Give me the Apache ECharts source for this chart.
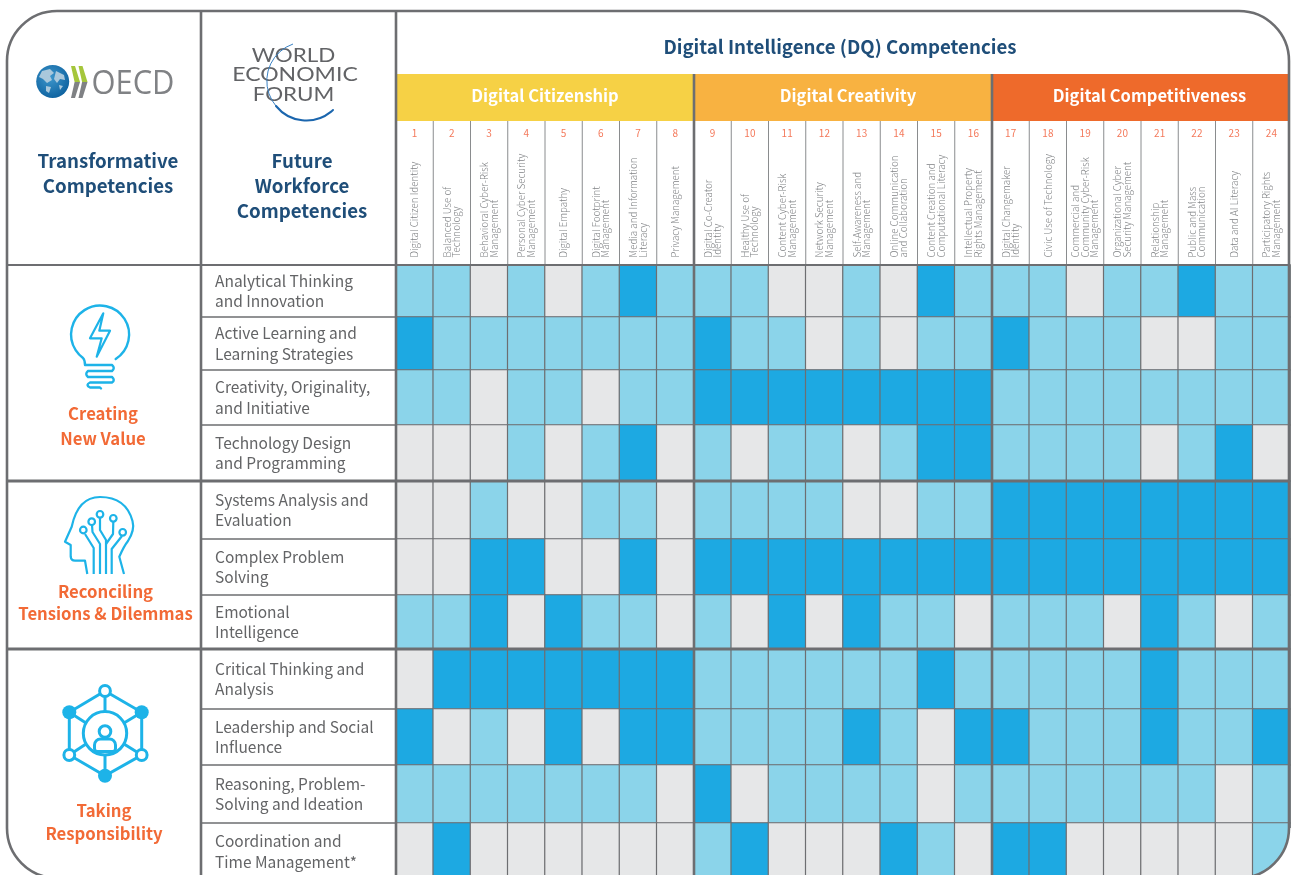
<!DOCTYPE html>
<html><head><meta charset="utf-8">
<style>html,body{margin:0;padding:0;background:#fff}#c{width:1291px;height:875px}</style>
<script src="https://cdn.jsdelivr.net/npm/echarts@6/dist/echarts.min.js"></script>
</head><body><div id="c"></div>
<script>
// ---------- data ----------
const columnNumbers = ['1','2','3','4','5','6','7','8','9','10','11','12','13','14','15','16','17','18','19','20','21','22','23','24'];
const columnNames = [
 'Digital Citizen Identity','Balanced Use of\nTechnology','Behavioral Cyber-Risk\nManagement','Personal Cyber Security\nManagement',
 'Digital Empathy','Digital Footprint\nManagement','Media and Information\nLiteracy','Privacy Management',
 'Digital Co-Creator\nIdentity','Healthy Use of\nTechnology','Content Cyber-Risk\nManagement','Network Security\nManagement',
 'Self-Awareness and\nManagement','Online Communication\nand Collaboration','Content Creation and\nComputational Literacy','Intellectual Property\nRights Management',
 'Digital Changemaker\nIdentity','Civic Use of Technology','Commercial and\nCommunity Cyber-Risk\nManagement','Organizational Cyber\nSecurity Management',
 'Relationship\nManagement','Public and Mass\nCommunication','Data and AI Literacy','Participatory Rights\nManagement'];
const rowLabels = [
 'Analytical Thinking\nand Innovation','Active Learning and\nLearning Strategies','Creativity, Originality,\nand Initiative','Technology Design\nand Programming',
 'Systems Analysis and\nEvaluation','Complex Problem\nSolving','Emotional\nIntelligence',
 'Critical Thinking and\nAnalysis','Leadership and Social\nInfluence','Reasoning, Problem-\nSolving and Ideation','Coordination and\nTime Management*'];
// 0 = no link, 1 = indirect link, 2 = direct link
const analytical   = [1,1,0,1,0,1,2,1, 1,1,0,0,1,0,2,1, 1,1,0,1,1,2,1,1];
const activeLearn  = [2,1,1,1,1,1,1,1, 2,1,1,0,1,0,1,1, 2,1,1,1,0,0,1,1];
const creativity   = [1,1,0,1,1,0,1,1, 2,2,2,2,2,2,2,2, 1,1,1,1,1,1,1,1];
const techDesign   = [0,0,0,1,0,1,2,0, 1,0,1,1,0,1,2,2, 1,1,1,1,0,1,2,0];
const systems      = [0,0,1,0,0,1,1,0, 1,1,1,1,0,0,1,1, 2,2,2,2,2,2,2,2];
const complexProb  = [0,0,2,2,0,0,2,0, 2,2,2,2,2,2,2,2, 2,2,2,2,2,2,2,2];
const emotional    = [1,1,2,0,2,1,1,0, 1,0,2,0,2,1,1,0, 1,1,1,0,2,1,0,1];
const critical     = [0,2,2,2,2,2,2,2, 1,1,1,1,1,1,2,1, 1,1,1,1,2,1,1,1];
const leadership   = [2,0,1,0,2,0,2,2, 1,1,1,1,2,1,0,2, 2,1,1,1,2,1,1,2];
const reasoning    = [1,1,1,1,1,1,1,0, 2,0,1,1,1,1,0,1, 1,1,1,1,1,1,0,1];
const coordination = [0,2,0,0,0,0,0,0, 1,2,0,0,0,2,1,0, 2,2,0,0,0,0,0,1];
const matrix = [analytical,activeLearn,creativity,techDesign,systems,complexProb,emotional,critical,leadership,reasoning,coordination];
const bandTitles = ['Digital Citizenship','Digital Creativity','Digital Competitiveness'];

// ---------- style / layout ----------
const cellColors = ['#E6E7E8','#8BD4EA','#1DA9E2'];
const bandColors = ['#F6D145','#F8B241','#EE6A2B'];
const bandNudge = [0,5,9];
const FONT='"Noto Sans CJK SC","Noto Sans",sans-serif';
const NAVY='#1F4E79', ORANGE='#F26A36', LINE='#6D6E71', ICON='#1DB3E8', GREY='#636466';
const gridLeft=396, gridRight=1290, colW=(gridRight-gridLeft)/24;
const rowEdges=[265,317,370,425,481,539,595,649,709,765,823,880];

const chart=echarts.init(document.getElementById('c'),null,{renderer:'canvas'});
const grid=[],xAxis=[],yAxis=[],series=[];
matrix.forEach((vals,r)=>{
  grid.push({left:gridLeft,width:gridRight-gridLeft,top:rowEdges[r],height:rowEdges[r+1]-rowEdges[r],outerBoundsMode:'none'});
  xAxis.push({type:'category',gridIndex:r,data:columnNumbers,show:false});
  yAxis.push({type:'category',gridIndex:r,data:[rowLabels[r]],
    axisLine:{show:false},axisTick:{show:false},splitLine:{show:false},
    axisLabel:{interval:0,align:'left',margin:gridLeft-215,fontSize:15.5,lineHeight:20.5,color:GREY,fontFamily:FONT}});
  series.push({type:'heatmap',xAxisIndex:r,yAxisIndex:r,
    data:vals.map((v,c)=>({value:[c,0,v],itemStyle:{color:cellColors[v]}})),
    itemStyle:{borderColor:LINE,borderWidth:1.2},silent:true,progressive:0});
});
// column numbers sit on the first row's grid
xAxis.push({type:'category',gridIndex:0,position:'top',offset:132,data:columnNumbers,
  axisLine:{show:false},axisTick:{show:false},
  axisLabel:{interval:0,margin:0,fontSize:10,color:'#F4795B',fontFamily:FONT,verticalAlign:'middle'}});

// ---------- decoration ----------
const g=[];
let pathId=0;
// graphic elements have no generic svg-path type: register one shape per outline
const svg=(d,style,z=20)=>{
  const name='dqPath'+(pathId++);
  echarts.graphic.registerShape(name,echarts.graphic.extendPath(d,{}));
  g.push({type:name,z,silent:true,style:Object.assign({fill:'none'},style)});
};
const text=(t,x,y,o={})=>g.push({type:'text',x,y,z:20,scaleX:o.sx||1,silent:true,
  style:{text:t,x:0,y:0,align:'center',verticalAlign:'middle',fontFamily:o.f||FONT,fontSize:o.s||18,fontWeight:o.w||700,lineHeight:o.lh,fill:o.c||NAVY}});
const line=(x1,y1,x2,y2,w=1.5,c=LINE,z=12)=>g.push({type:'line',z,silent:true,shape:{x1,y1,x2,y2},style:{stroke:c,lineWidth:w}});
const circle=(cx,cy,r,o={})=>g.push({type:'circle',z:o.z||20,silent:true,shape:{cx,cy,r},
  style:{fill:o.fill||'#fff',stroke:o.stroke===undefined?ICON:o.stroke,lineWidth:o.w===undefined?2.4:o.w}});

// vertical competency names
columnNames.forEach((t,i)=>g.push({type:'text',x:gridLeft+(i+0.5)*colW,y:257.5,rotation:Math.PI/2,z:20,silent:true,
  style:{text:t,x:0,y:0,align:'left',verticalAlign:'middle',fontFamily:FONT,fontSize:9.75,fontWeight:300,lineHeight:9.5,fill:'#7F8184'}}));

// bands
bandTitles.forEach((t,i)=>{
  const x0=gridLeft+i*8*colW, x1=i==2?1289:x0+8*colW;
  g.push({type:'rect',z:5,silent:true,shape:{x:x0,y:74,width:x1-x0,height:47},style:{fill:bandColors[i]}});
  text(t,(x0+x1)/2+bandNudge[i],95.5,{s:16.5,c:'#fff'});
});
text('Digital Intelligence (DQ) Competencies',840,46.5,{s:18.7});
text('Transformative\nCompetencies',108,173.5,{s:18.7,lh:25});
text('Future\nWorkforce\nCompetencies',302,186,{s:18.7,lh:25});
text('Creating\nNew Value',103,426.5,{s:16.7,lh:25,c:ORANGE});
text('Reconciling\nTensions & Dilemmas',105.5,603,{s:16.7,lh:22,c:ORANGE});
text('Taking\nResponsibility',104,822.5,{s:16.7,lh:23,c:ORANGE});

// rules
for(let i=1;i<24;i++){ const x=gridLeft+i*colW; line(x,121,x,265,1,'#8A8C8E',6); }
[0,8,16].forEach(i=>{ const x=gridLeft+i*colW; line(x,i?74:11,x,880,2.6); });
line(201,11,201,880,2.6);
line(7,265,1289,265,2);
line(7,481,1289,481,3);
line(7,649,1289,649,3);
rowEdges.slice(1,-1).forEach(y=>line(201,y,396,y,1.6));

// corner masks and frame
const f={x0:7,y0:11,x1:1289,y1:878,r:50};
svg(`M${f.x1} ${f.y1-f.r} A${f.r} ${f.r} 0 0 1 ${f.x1-f.r} ${f.y1} L1291 ${f.y1} L1291 ${f.y1-f.r} Z`,{fill:'#fff'},30);
svg(`M${f.x0} ${f.y1-f.r} A${f.r} ${f.r} 0 0 0 ${f.x0+f.r} ${f.y1} L0 ${f.y1} L0 ${f.y1-f.r} Z`,{fill:'#fff'},30);
g.push({type:'rect',z:31,silent:true,shape:{x:f.x0,y:f.y0,width:f.x1-f.x0,height:f.y1-f.y0,r:f.r},style:{fill:'none',stroke:LINE,lineWidth:2.6}});

// OECD logo
g.push({type:'circle',z:20,silent:true,shape:{cx:52.7,cy:81.5,r:16.5},style:{fill:new echarts.graphic.RadialGradient(0.42,0.38,0.7,[{offset:0,color:'#3E97CC'},{offset:1,color:'#0A5E9C'}])}});
[
 'M42 71 L50 69 L54 73 L50 76 L52 80 L47 83 L43 79 L39 77 Z',
 'M56 71 L64 75 L65 80 L60 79 L57 83 L54 79 Z',
 'M46 86 L51 87 L49 93 L46 91 Z',
 'M59 85 L63 86 L60 90 Z'
].forEach(d=>svg(d,{fill:'#A9C8DC'},21));
const chev=(x,topC,botC)=>{
  svg(`M${x} 66 L${x+4} 66 L${x+9} 82 L${x+3.6} 82 Z`,{fill:topC});
  svg(`M${x+3.6} 82 L${x+9} 82 L${x+4} 98 L${x} 98 Z`,{fill:botC});
};
chev(71,'#A5C63B','#7F8184'); chev(78.5,'#A5C63B','#7F8184');
text('OECD',133,84.5,{s:32.5,w:400,c:'#808285',f:'"Open Sans",sans-serif',sx:0.95});

// WEF logo
text('WORLD',293.5,56,{s:20,w:400,c:'#626366',f:'Lato,sans-serif',sx:1.12});
text('ECONOMIC',295,75,{s:20,w:400,c:'#626366',f:'Lato,sans-serif',sx:1.15});
text('FORUM',293.5,95,{s:20,w:400,c:'#626366',f:'Lato,sans-serif',sx:1.12});
svg('M293 44 A39 39 0 0 0 276 106',{stroke:'#3B82C4',lineWidth:1},21);
svg('M276 106 A39 39 0 0 0 333 110',{stroke:'#1B66AE',lineWidth:2,lineCap:'round'},21);

// light bulb
svg('M115.7 359 A29 29 0 1 0 83 358 Q85 360 85 365 L112 365 Q115.5 368 112 371 L88 371 Q84.5 374 88 377 L112 377 Q115.5 380 112 382.5 L90 382.5 Q85 385 90 387.5 L100 387.5 L101 388.5',{stroke:ICON,lineWidth:2.4,lineCap:'round',lineJoin:'round'});
svg('M103.3 313.3 L90 338.3 L101.7 338.3 L96.7 356.7 L110 330.7 L99.3 330.7 Z',{stroke:ICON,lineWidth:2.2,lineJoin:'round'});

// head with circuits
[
 'M124 574 L119.3 556.7 Q124 546 128 541 Q135 530 132.5 521 Q126 497 100 497 Q78 497 71.7 526.7 L65 541.7 L70.7 545 L70.7 556.7 Q71 560.7 75 560.7 L85 560.7 L87.3 574',
 'M85 534 L93.7 548 L93.7 574',
 'M92 525 L92.5 532 L100 544 L100 574',
 'M100 518 L100 530 L106 540 L106 574',
 'M113.3 522 L113 534 L106 544',
 'M122 536 L111.7 549 L111.7 574'
].forEach(d=>svg(d,{stroke:ICON,lineWidth:2.2,lineJoin:'round'}));
[[83.3,530],[91.7,521.7],[100,514.3],[113.3,518.3],[122.7,532.3]].forEach(p=>circle(p[0],p[1],3.3,{w:2.2}));

// network
const hex=[[105,691],[141.7,712.3],[141.7,755],[105,775.7],[69.3,755],[69.3,712.3]];
svg('M'+hex.map(p=>p.join(' ')).join(' L')+' Z',{stroke:ICON,lineWidth:3});
[[105,691,105,712],[141.7,712.3,124,723],[141.7,755,124,744],[105,775.7,105,755],[69.3,755,86,744],[69.3,712.3,86,723]].forEach(s=>line(s[0],s[1],s[2],s[3],3,ICON,20));
circle(105,733.3,21.7,{w:3,z:21});
hex.forEach((p,i)=>i%2?circle(p[0],p[1],7,{fill:ICON,z:22,w:0,stroke:ICON}):circle(p[0],p[1],5.4,{w:3,z:22}));
circle(105,731.5,5.8,{w:3,z:22});
g.push({type:'rect',z:22,silent:true,shape:{x:94.5,y:739,width:21,height:12.5,r:[6,6,3,3]},style:{fill:'#fff',stroke:ICON,lineWidth:3}});

chart.setOption({animation:false,backgroundColor:'#fff',grid,xAxis,yAxis,series,graphic:{elements:g}});
</script></body></html>
